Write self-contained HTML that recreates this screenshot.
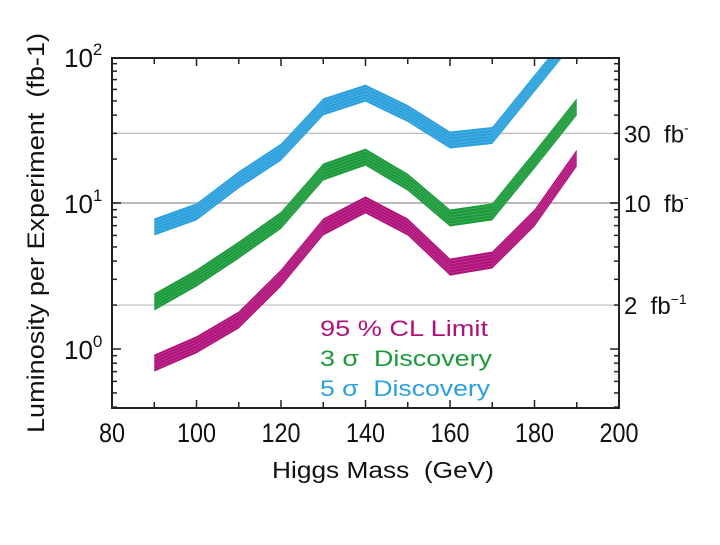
<!DOCTYPE html>
<html><head><meta charset="utf-8"><style>
body{margin:0;background:#fff}
svg text{font-family:"Liberation Sans",sans-serif;white-space:pre}
</style></head><body>
<svg id="chart" width="720" height="540" viewBox="0 0 720 540" xmlns="http://www.w3.org/2000/svg" xml:space="preserve">
<rect width="720" height="540" fill="#fff"/>
<defs><clipPath id="pc"><rect x="112" y="58" width="507" height="350"/></clipPath></defs>
<g id="grid"></g>
<g id="bands" clip-path="url(#pc)"></g>
<g id="axes"></g>
<text transform="translate(44,233) rotate(-90)" text-anchor="middle" font-size="24" fill="#111" textLength="400" lengthAdjust="spacingAndGlyphs">Luminosity per Experiment  (fb-1)</text>
<text x="383" y="478" text-anchor="middle" font-size="23" fill="#111" textLength="222" lengthAdjust="spacingAndGlyphs">Higgs Mass  (GeV)</text>
<g font-size="22">
<text x="320" y="336" fill="#b0107a" textLength="168" lengthAdjust="spacingAndGlyphs">95 % CL Limit</text>
<text x="320" y="366" fill="#1a9a3a" textLength="172" lengthAdjust="spacingAndGlyphs">3 σ  Discovery</text>
<text x="320" y="396" fill="#2aa0dc" textLength="170" lengthAdjust="spacingAndGlyphs">5 σ  Discovery</text>
</g>
</svg>
<script>
const masses=[90,100,110,120,130,140,150,160,170,180,190];
const cl95=[0.80,1.07,1.58,3.06,6.85,9.7,6.85,3.64,4.07,7.9,20.3];
const sig3=[2.1,3.06,4.76,7.6,16.3,20.6,13.9,7.9,8.7,19.7,45.5];
const sig5=[6.85,8.7,14.4,22.3,45.5,56.6,41,27,29,66,150];
const xTicks=[80,100,120,140,160,180,200];
const yTickExp=[0,1,2];
const refLines=[30,10,2];
const refLabels=["30  fb","10  fb","2  fb"];
const refSup=["-","-","−1"];

const NS="http://www.w3.org/2000/svg";
const X0=112,X1=619,Y0=58,Y1=408;
const xs=v=>X0+(v-80)*(X1-X0)/120;
const ys=v=>349-Math.log10(v)*146;
function mk(t,a,p){const e=document.createElementNS(NS,t);for(const k in a)e.setAttribute(k,a[k]);p.appendChild(e);return e;}
const grid=document.getElementById('grid'),bands=document.getElementById('bands'),axes=document.getElementById('axes');

refLines.forEach((v,i)=>{
  const l=mk('line',{x1:X0,x2:X1,y1:ys(v),y2:ys(v),stroke:'#bbb','stroke-width':v==10?2:1.2},grid);
  
  
  const t=mk('text',{x:624,y:ys(v)+9,'font-size':24,fill:'#111'},grid);
  
  
  t.textContent=refLabels[i];
  const s=mk('tspan',{dy:-10,'font-size':14},t);s.textContent=refSup[i];
});

function band(vals,color,name){
  const top=masses.map((m,i)=>xs(m)+','+(ys(vals[i])-8.5));
  const bot=masses.map((m,i)=>xs(m)+','+(ys(vals[i])+8.5)).reverse();
  const p=mk('polygon',{points:top.concat(bot).join(' '),fill:color},bands);
  
  
  for(let k=-6;k<=6;k+=3){
    const pl=mk('polyline',{points:masses.map((m,i)=>xs(m)+','+(ys(vals[i])+k)).join(' '),fill:'none',stroke:'rgba(255,255,255,0.18)','stroke-width':0.8},bands);
    
    
  }
}
band(sig5,'#2aa0dc','band-5sigma');
band(sig3,'#1a9a3a','band-3sigma');
band(cl95,'#b0107a','band-95cl');

const fr=mk('rect',{x:X0,y:Y0,width:X1-X0,height:Y1-Y0,fill:'none',stroke:'#222','stroke-width':2},axes);


for(let m=80;m<=200;m+=10){
  const L=(m%20==0)?8:6;
  mk('line',{x1:xs(m),x2:xs(m),y1:Y1,y2:Y1-L,stroke:'#222','stroke-width':1.5},axes);
  mk('line',{x1:xs(m),x2:xs(m),y1:Y0,y2:Y0+L,stroke:'#222','stroke-width':1.5},axes);
}
xTicks.forEach(v=>{
  const t=mk('text',{x:xs(v),y:442,'text-anchor':'middle','font-size':27,fill:'#111',textLength:String(v).length*13,lengthAdjust:'spacingAndGlyphs'},axes);
  
  
  t.textContent=v;
});
for(let e=-1;e<=2;e++){for(let d=1;d<10;d++){
  const v=d*Math.pow(10,e);const y=ys(v);if(y<Y0-0.5||y>Y1)continue;
  const L=d==1?9:5;
  mk('line',{x1:X0,x2:X0+L,y1:y,y2:y,stroke:'#222','stroke-width':1.5},axes);
  mk('line',{x1:X1,x2:X1-L,y1:y,y2:y,stroke:'#222','stroke-width':1.5},axes);
}}
yTickExp.forEach(e=>{
  const t=mk('text',{x:64,y:ys(Math.pow(10,e))+10,'font-size':26,fill:'#111'},axes);
  
  
  t.textContent='10';
  const s=mk('tspan',{dy:-12,'font-size':17},t);s.textContent=e;
});
</script>
</body></html>
